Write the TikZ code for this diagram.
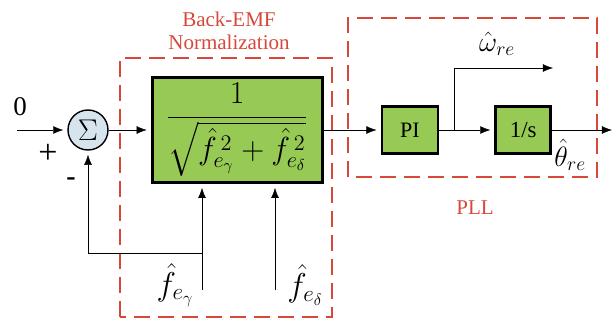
\RequirePackage{fix-cm}
\documentclass[tikz,border=0pt]{standalone}
\usepackage{amsmath}
\usepackage{fontspec}
\setmainfont{Liberation Serif}
\usetikzlibrary{arrows.meta, positioning}

\definecolor{blockgreen}{RGB}{150,202,84}
\definecolor{sumblue}{RGB}{214,228,238}
\definecolor{framered}{RGB}{214,72,58}

\begin{document}
\begin{tikzpicture}[x=1pt, y=1pt]
	\tikzset{>={Latex[length=15pt,width=11pt]}, line width=2.3pt,
		block/.style={draw, line width=2.8pt, fill=blockgreen, inner sep=0pt, font=\fontsize{22}{24}\selectfont},
		sum/.style={circle, draw, line width=1.4pt, fill=sumblue, minimum size=40pt, inner sep=0pt},
		frame/.style={draw=framered, line width=2.6pt, dash pattern=on 16pt off 8pt},
		redlabel/.style={text=framered, font=\fontsize{21}{23}\selectfont, align=center},
		sig/.style={inner sep=0pt, font=\fontsize{28}{30}\selectfont}}

	\useasboundingbox (0,0) rectangle (616,325);

	% blocks
	\node[sum, font=\fontsize{30}{30}\selectfont] (sum) at (88,195) {$\Sigma$};
	\node[block, minimum width=170pt, minimum height=105pt, right=42pt of sum] (norm) {\scalebox{1.45}{$\displaystyle\frac{1}{\sqrt{\hat{f}_{e_\gamma}^{\,2}+\hat{f}_{e_\delta}^{\,2}}}$}};
	\node[block, minimum width=56pt, minimum height=47pt, right=57pt of norm] (pi) {PI};
	\node[block, minimum width=55pt, minimum height=47pt, right=55pt of pi, font=\fontsize{23}{24}\selectfont] (integ) {1/s};

	% dashed groups
	\draw[frame] (120,8) rectangle (332,267);
	\draw[frame] (348,148) rectangle (597,307);
	\node[redlabel] (normlabel) at (229,294) {Back-EMF\\Normalization};
	\node[redlabel] (plllabel) at (475,117) {PLL};

	% signals
	\coordinate (in) at (17,195);
	\coordinate (out) at (616,195);
	\coordinate (split) at (454,195);
	\coordinate (omega) at (557,257);
	\coordinate (fg) at (202,35);
	\coordinate (fd) at (275,35);
	\coordinate (fb) at (202,72);

	\draw[->] (in) -- (sum);
	\draw[->] (sum) -- (norm);
	\draw[->] (norm) -- (pi);
	\draw[->] (pi) -- (integ);
	\draw[->] (integ) -- (out);
	\draw[->] (split) |- (omega);
	\draw[->] (fg) -- (fg |- norm.south);
	\draw[->] (fd) -- (fd |- norm.south);
	\draw[->] (fb) -| (sum.south);

	% labels
	\node[font=\fontsize{27}{28}\selectfont] (zero) at (20,218) {0};
	\node[font=\fontsize{34}{34}\selectfont] (plus) at (48,171) {+};
	\node[font=\fontsize{28}{28}\selectfont\bfseries] (minus) at (71,143) {-};
	\node[sig, font=\fontsize{33}{34}\selectfont] (fglabel) at (175,40) {$\hat{f}_{e_\gamma}$};
	\node[sig, font=\fontsize{33}{34}\selectfont] (fdlabel) at (305,40) {$\hat{f}_{e_\delta}$};
	\node[sig] (omegalabel) at (497,281) {$\hat{\omega}_{re}$};
	\node[sig] (thetalabel) at (570,170) {$\hat{\theta}_{re}$};
\end{tikzpicture}
\end{document}
